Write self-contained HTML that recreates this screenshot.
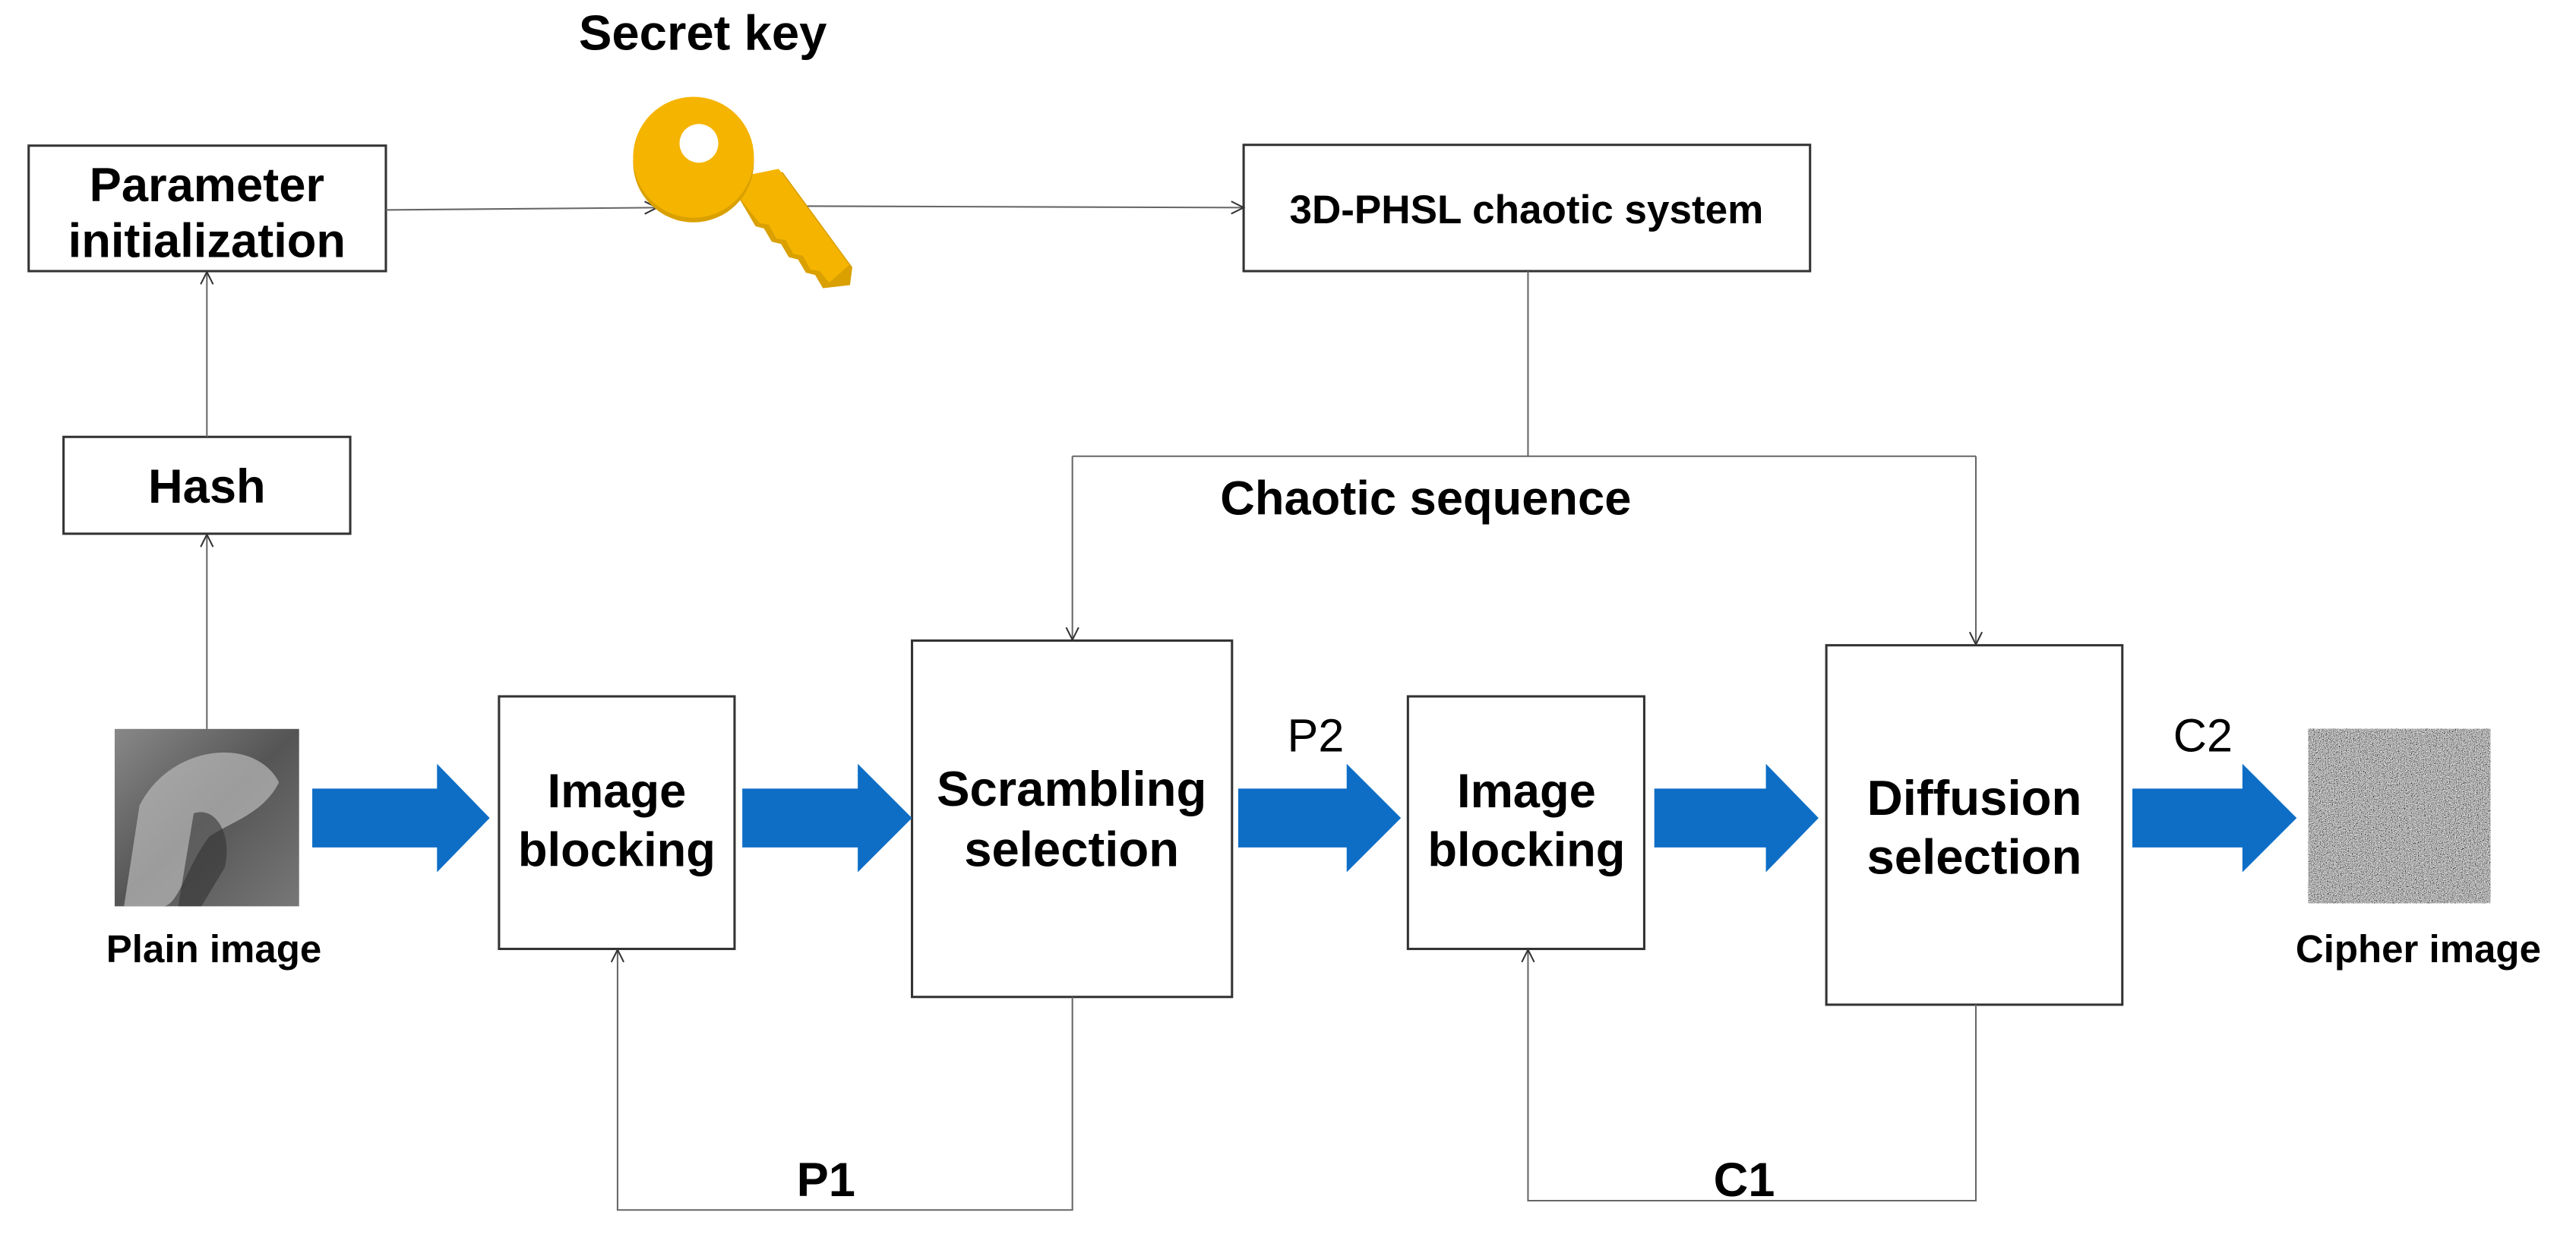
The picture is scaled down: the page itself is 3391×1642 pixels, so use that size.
<!DOCTYPE html>
<html><head><meta charset="utf-8"><style>
html,body{margin:0;padding:0;background:#fff}
svg{display:block}
text{font-family:"Liberation Sans",sans-serif;font-weight:bold;fill:#000}
</style></head><body>
<svg width="3391" height="1642" viewBox="0 0 3391 1642" xmlns="http://www.w3.org/2000/svg">
<defs>
<marker id="a" markerWidth="20" markerHeight="20" refX="18" refY="10" orient="auto" markerUnits="userSpaceOnUse">
<path d="M2,2 L18,10 L2,18" fill="none" stroke="#333" stroke-width="2"/>
</marker>
<filter id="n" x="0" y="0" width="100%" height="100%">
<feTurbulence type="fractalNoise" baseFrequency="0.9" numOctaves="2" seed="3"/>
<feColorMatrix type="matrix" values="0.33 0.33 0.33 0 0 0.33 0.33 0.33 0 0 0.33 0.33 0.33 0 0 0 0 0 0 1"/>
<feComponentTransfer><feFuncR type="linear" slope="3" intercept="-1.05"/><feFuncG type="linear" slope="3" intercept="-1.05"/><feFuncB type="linear" slope="3" intercept="-1.05"/></feComponentTransfer>
</filter>
<linearGradient id="lg" x1="0" y1="0" x2="1" y2="1">
<stop offset="0" stop-color="#888"/><stop offset="0.5" stop-color="#555"/><stop offset="1" stop-color="#777"/>
</linearGradient>
</defs>
<g transform="scale(1.02)">
<g fill="none" stroke="#333" stroke-width="3">
<rect x="37" y="188" width="461" height="162"/>
<rect x="82" y="564" width="370" height="125"/>
<rect x="1605" y="187" width="731" height="163"/>
<rect x="644" y="899" width="304" height="326"/>
<rect x="1177" y="827" width="413" height="460"/>
<rect x="1817" y="899" width="305" height="326"/>
<rect x="2357" y="833" width="382" height="464"/>
</g>

<g fill="none" stroke="#666" stroke-width="2">
<path d="M498,271 L848,268" marker-end="url(#a)"/>
<path d="M1010,266 L1605,268" marker-end="url(#a)"/>
<path d="M267,564 L267,351" marker-end="url(#a)"/>
<path d="M267,941 L267,690" marker-end="url(#a)"/>
<path d="M1972,350 L1972,589"/>
<path d="M1384,589 L2550,589"/>
<path d="M1384,589 L1384,826" marker-end="url(#a)"/>
<path d="M2550,589 L2550,832" marker-end="url(#a)"/>
<path d="M1384,1287 L1384,1562 L797,1562 L797,1226" marker-end="url(#a)"/>
<path d="M2550,1297 L2550,1550 L1972,1550 L1972,1226" marker-end="url(#a)"/>
</g>

<g>
<path d="M960,232 L1010,222 L1100,345 L1097,368 L1062,372 L1052,355 L1040,352 L1030,335 L1018,332 L1008,315 L996,312 L986,295 L975,292 L955,258 Z" fill="#d9a000"/>
<path d="M955,228 L1005,218 L1096,342 L1070,365 L1058,350 L1046,348 L1036,330 L1024,328 L1014,310 L1002,308 L992,290 L980,288 L950,250 Z" fill="#f5b400"/>
<circle cx="895" cy="209" r="78" fill="#d9a000"/>
<circle cx="895" cy="203" r="78" fill="#f5b400"/>
<circle cx="902" cy="185" r="25" fill="#fff"/>
</g>

<g fill="#0e6ec6">
<path d="M403,1018 L564,1018 L564,986 L632,1056 L564,1126 L564,1094 L403,1094 Z"/>
<path d="M958,1018 L1107,1018 L1107,986 L1177,1056 L1107,1126 L1107,1094 L958,1094 Z"/>
<path d="M1598,1018 L1738,1018 L1738,986 L1808,1056 L1738,1126 L1738,1094 L1598,1094 Z"/>
<path d="M2135,1018 L2279,1018 L2279,986 L2347,1056 L2279,1126 L2279,1094 L2135,1094 Z"/>
<path d="M2752,1018 L2894,1018 L2894,986 L2964,1056 L2894,1126 L2894,1094 L2752,1094 Z"/>
</g>

<rect x="148" y="941" width="238" height="229" fill="url(#lg)"/>
<path d="M180,1040 C220,960 330,950 360,1010 C340,1050 300,1060 270,1080 C240,1120 230,1170 210,1170 L160,1170 Z" fill="#bbb" opacity="0.7"/>
<path d="M250,1050 C280,1040 300,1080 290,1120 L260,1170 L230,1170 Z" fill="#333" opacity="0.6"/>
<rect x="2979" y="941" width="235" height="225" fill="#888" filter="url(#n)"/>

<text x="907" y="64" font-size="64" text-anchor="middle">Secret key</text>
<text x="267" y="260" font-size="62" text-anchor="middle">Parameter</text>
<text x="267" y="332" font-size="62" text-anchor="middle">initialization</text>
<text x="267" y="649" font-size="62" text-anchor="middle">Hash</text>
<text x="1970" y="288" font-size="52" text-anchor="middle">3D-PHSL chaotic system</text>
<text x="1840" y="664" font-size="62" text-anchor="middle">Chaotic sequence</text>
<text x="796" y="1042" font-size="62" text-anchor="middle">Image</text>
<text x="796" y="1118" font-size="62" text-anchor="middle">blocking</text>
<text x="1383" y="1040" font-size="64" text-anchor="middle">Scrambling</text>
<text x="1383" y="1118" font-size="64" text-anchor="middle">selection</text>
<text x="1970" y="1042" font-size="62" text-anchor="middle">Image</text>
<text x="1970" y="1118" font-size="62" text-anchor="middle">blocking</text>
<text x="2548" y="1052" font-size="64" text-anchor="middle">Diffusion</text>
<text x="2548" y="1128" font-size="64" text-anchor="middle">selection</text>
<text x="276" y="1242" font-size="50" text-anchor="middle">Plain image</text>
<text x="3121" y="1242" font-size="50" text-anchor="middle">Cipher image</text>
<text x="1698" y="970" font-size="60" text-anchor="middle" style="font-weight:normal">P2</text>
<text x="2843" y="970" font-size="60" text-anchor="middle" style="font-weight:normal">C2</text>
<text x="1066" y="1544" font-size="62" text-anchor="middle">P1</text>
<text x="2251" y="1544" font-size="62" text-anchor="middle">C1</text>
</g>
</svg>
</body></html>
